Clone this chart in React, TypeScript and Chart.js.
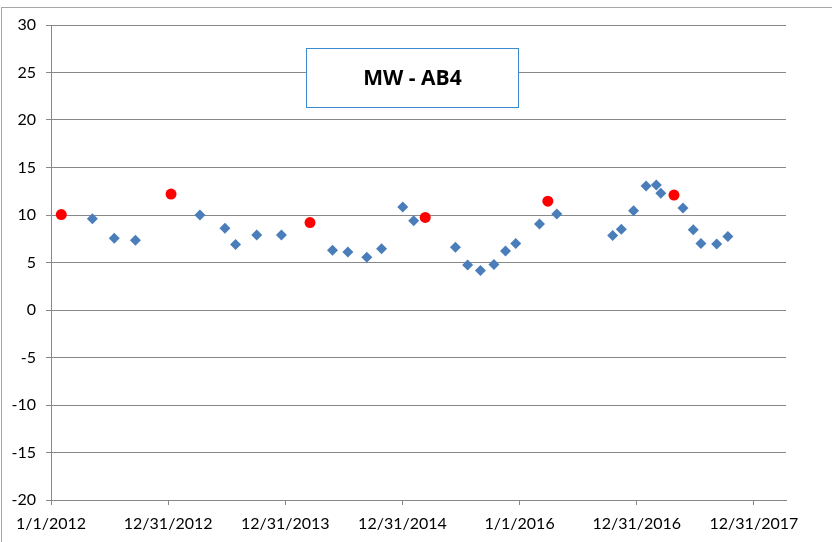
import React, { useEffect, useRef } from "react";
import { Chart, registerables } from "chart.js";

Chart.register(...registerables);

// Regular samples (blue diamonds)
const sampleDates = [
  "2012-05-09", "2012-07-16", "2012-09-20", "2013-04-09", "2013-06-26", "2013-07-29",
  "2013-10-03", "2013-12-19", "2014-05-27", "2014-07-14", "2014-09-11", "2014-10-27",
  "2015-01-01", "2015-02-04", "2015-06-14", "2015-07-22", "2015-08-31", "2015-10-12",
  "2015-11-17", "2015-12-19", "2016-03-02", "2016-04-25", "2016-10-16", "2016-11-12",
  "2016-12-20", "2017-01-28", "2017-03-01", "2017-03-15", "2017-05-23", "2017-06-24",
  "2017-07-18", "2017-09-05", "2017-10-10",
];
const sampleValues = [
  9.6, 7.55, 7.35, 10.0, 8.6, 6.9,
  7.9, 7.9, 6.3, 6.1, 5.55, 6.45,
  10.85, 9.4, 6.6, 4.75, 4.15, 4.8,
  6.2, 7.0, 9.05, 10.1, 7.85, 8.5,
  10.45, 13.05, 13.15, 12.3, 10.75, 8.45,
  7.0, 6.95, 7.75,
];

// Highlighted samples (red circles)
const highlightDates = ["2012-02-02", "2013-01-09", "2014-03-18", "2015-03-12", "2016-03-28", "2017-04-25"];
const highlightValues = [10.05, 12.2, 9.2, 9.75, 11.45, 12.1];

const xTickLabels = ["1/1/2012", "12/31/2012", "12/31/2013", "12/31/2014", "1/1/2016", "12/31/2016", "12/31/2017"];
const xTickDays = [0, 365, 730, 1095, 1460, 1825, 2190];
const xStartDate = "2012-01-01";
const xEndDate = "2018-04-09";
const yMin = -20;
const yMax = 30;
const yStep = 5;
const chartTitle = "MW - AB4";

const toDay = (s: string) => (Date.parse(s) - Date.parse(xStartDate)) / 86400000;

const FONT = "Lato, 'Open Sans', sans-serif";
const TITLE_FONT = "'Open Sans', Lato, sans-serif";
const GRID = "#888888";

export default function App() {
  const ref = useRef<HTMLCanvasElement | null>(null);

  useEffect(() => {
    if (!ref.current) return;

    const frame = {
      id: "frame",
      beforeDraw(chart: any) {
        const c = chart.ctx;
        c.save();
        c.fillStyle = "#ffffff";
        c.fillRect(0, 0, chart.width, chart.height);
        c.strokeStyle = "#a6a6a6";
        c.lineWidth = 1;
        c.strokeRect(1.5, 7.5, chart.width + 20, chart.height + 20);
        c.restore();
      },
      afterDraw(chart: any) {
        const c = chart.ctx;
        const a = chart.chartArea;
        const w = 212;
        const h = 59;
        const cx = a.left + (a.right - a.left) * 0.4905;
        const x = Math.round(cx - w / 2) + 0.5;
        const y = a.top + 23.5;
        c.save();
        c.fillStyle = "#ffffff";
        c.fillRect(x, y, w, h);
        c.strokeStyle = "#3c8ad0";
        c.lineWidth = 1;
        c.strokeRect(x, y, w, h);
        c.fillStyle = "#000000";
        c.font = `bold 21px ${TITLE_FONT}`;
        c.textAlign = "center";
        c.textBaseline = "middle";
        c.fillText(chartTitle, x + w / 2, y + h / 2 + 1);
        c.restore();
      },
    };

    const chart = new Chart(ref.current, {
      type: "scatter",
      data: {
        datasets: [
          {
            label: "samples",
            data: sampleDates.map((d, i) => ({ x: toDay(d), y: sampleValues[i] })),
            pointStyle: "rectRot",
            pointRadius: 5.5,
            backgroundColor: "#4a7ebb",
            borderColor: "#4a7ebb",
            borderWidth: 0,
          },
          {
            label: "highlight",
            data: highlightDates.map((d, i) => ({ x: toDay(d), y: highlightValues[i] })),
            pointStyle: "circle",
            pointRadius: 5.5,
            backgroundColor: "#ff0000",
            borderColor: "#ff0000",
            borderWidth: 0,
          },
        ],
      },
      plugins: [frame],
      options: {
        responsive: false,
        animation: false,
        layout: { padding: { top: 25, right: 46, left: 0, bottom: 0 } },
        plugins: {
          legend: { display: false },
          tooltip: { enabled: false },
          title: { display: false },
        },
        scales: {
          x: {
            type: "linear",
            min: 0,
            max: toDay(xEndDate),
            afterBuildTicks: (scale: any) => {
              scale.ticks = xTickDays.map((v) => ({ value: v }));
            },
            afterFit: (scale: any) => {
              scale.height = 42;
            },
            grid: {
              display: true,
              drawOnChartArea: false,
              drawTicks: true,
              tickLength: 5,
              color: GRID,
            },
            border: { display: true, color: GRID, width: 1 },
            ticks: {
              autoSkip: false,
              maxRotation: 0,
              padding: 9,
              color: "#000000",
              font: { family: FONT, size: 16 },
              callback: (_v: any, i: number) => xTickLabels[i],
            },
          },
          y: {
            type: "linear",
            min: yMin,
            max: yMax,
            afterFit: (scale: any) => {
              scale.width = 51;
            },
            grid: {
              display: true,
              drawTicks: true,
              tickLength: 5,
              color: GRID,
            },
            border: { display: true, color: GRID, width: 1 },
            ticks: {
              stepSize: yStep,
              padding: 10,
              color: "#000000",
              font: { family: FONT, size: 16 },
            },
          },
        },
      },
    } as any);

    return () => chart.destroy();
  }, []);

  return (
    <div style={{ position: "absolute", left: 0, top: 0, width: 832, height: 542 }}>
      <canvas ref={ref} width={832} height={542} style={{ width: 832, height: 542, display: "block" }} />
    </div>
  );
}
